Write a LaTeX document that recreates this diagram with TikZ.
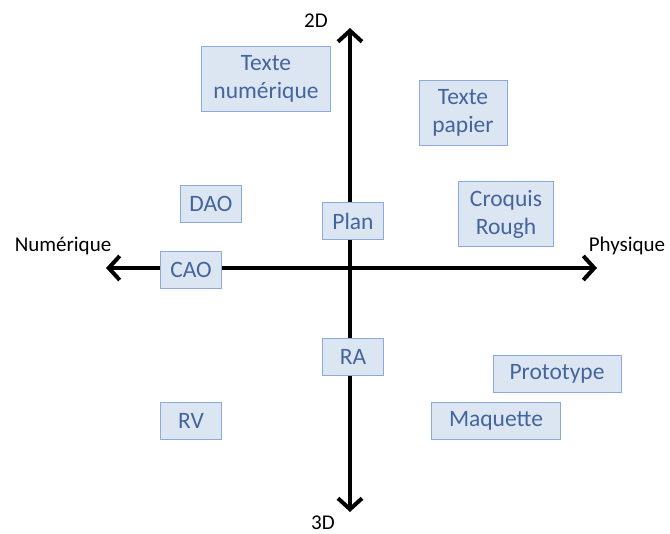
\documentclass[tikz,border=0pt]{standalone}
\usepackage{fontspec}
\setmainfont{Carlito}
\usetikzlibrary{arrows.meta}
\definecolor{boxfill}{HTML}{DCE6F2}
\definecolor{boxline}{HTML}{8EAADB}
\definecolor{boxtext}{HTML}{44659C}
\begin{document}
\begin{tikzpicture}[x=1pt, y=-1pt,
  axis/.style={line width=4pt, -{Straight Barb[length=11pt, width=24pt, line width=4pt]}},
  tag/.style={draw=boxline, fill=boxfill, text=boxtext, line width=0.8pt,
    font=\fontsize{23.5}{28}\selectfont, align=center, inner sep=0pt},
  axlabel/.style={font=\fontsize{21}{24}\selectfont}]
\useasboundingbox (0,0) rectangle (670,534);
\coordinate (O) at (350,268);
\coordinate (N) at (350,28); \coordinate (S) at (350,512);
\coordinate (W) at (106,268); \coordinate (E) at (597,268);
\draw[axis] (O) -- (N);
\draw[axis] (O) -- (S);
\draw[axis] (O) -- (W);
\draw[axis] (O) -- (E);
\node[axlabel] (l2d) at (316,21) {2D};
\node[axlabel] (l3d) at (323,523) {3D};
\node[axlabel] (lnum) at (63,246) {Numérique};
\node[axlabel] (lphy) at (627,246) {Physique};
% cases
\node[tag, minimum width=129pt, minimum height=65pt] (txtnum) at (266,79) {Texte\\numérique};
\node[tag, minimum width=88pt, minimum height=65pt] (txtpap) at (463,113) {Texte\\papier};
\node[tag, minimum width=61pt, minimum height=37pt] (dao) at (211,204) {DAO};
\node[tag, minimum width=61pt, minimum height=37pt] (plan) at (353,221) {Plan};
\node[tag, minimum width=95pt, minimum height=65pt] (croquis) at (506,214) {Croquis\\Rough};
\node[tag, minimum width=61pt, minimum height=37pt] (cao) at (191,270) {CAO};
\node[tag, minimum width=61pt, minimum height=37pt] (ra) at (353,357) {RA};
\node[tag, minimum width=128pt, minimum height=37pt] (proto) at (557,374) {Prototype};
\node[tag, minimum width=61pt, minimum height=37pt] (rv) at (191,421) {RV};
\node[tag, minimum width=129pt, minimum height=37pt] (maq) at (496,421) {Maquette};
\end{tikzpicture}
\end{document}
